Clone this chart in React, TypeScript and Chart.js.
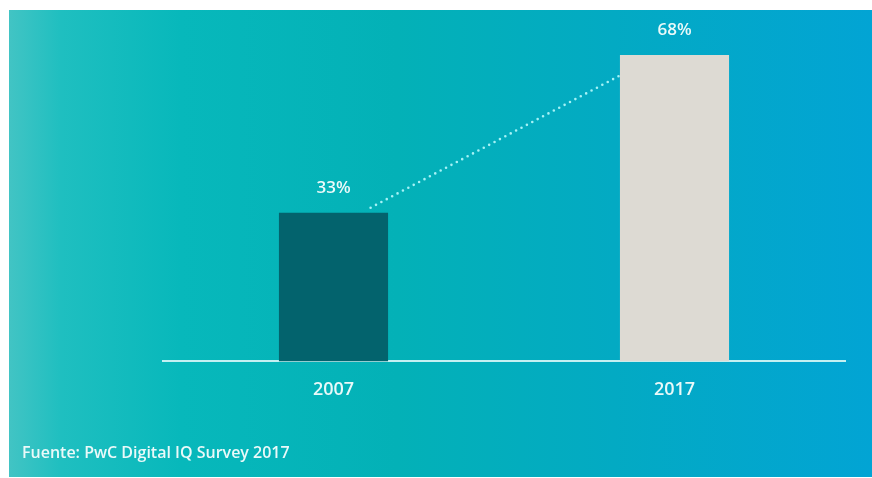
import React, { useEffect, useRef } from "react";
import { Chart, registerables } from "chart.js";

Chart.register(...registerables);

const categories = ["2007", "2017"];
const values = [33, 68];
const barColors = ["#03636d", "#dddad3"];
const valueSuffix = "%";
const sourceText = "Fuente: PwC Digital IQ Survey 2017";

const FONT = "'Open Sans', 'Noto Sans', sans-serif";
const TEXT_COLOR = "#eaf9f9";

const valueLabels = {
  id: "valueLabels",
  afterDatasetsDraw(chart: any) {
    const { ctx } = chart;
    const meta = chart.getDatasetMeta(0);
    ctx.save();
    ctx.fillStyle = TEXT_COLOR;
    ctx.font = `600 17px ${FONT}`;
    ctx.textAlign = "center";
    ctx.textBaseline = "middle";
    meta.data.forEach((bar: any, i: number) => {
      ctx.fillText(values[i] + valueSuffix, bar.x, bar.y - 25);
    });
    ctx.restore();
  },
};

const connector = {
  id: "connector",
  beforeDatasetsDraw(chart: any) {
    const { ctx } = chart;
    const meta = chart.getDatasetMeta(0);
    const a = meta.data[0];
    const b = meta.data[1];
    if (!a || !b) return;
    const x1 = a.x + a.width * 0.34;
    const y1 = a.y - 5;
    const x2 = b.x - b.width / 2 - 1;
    const y2 = b.y + 21;
    ctx.save();
    ctx.strokeStyle = "#a6f2f6";
    ctx.lineWidth = 2.6;
    ctx.lineCap = "round";
    ctx.setLineDash([0, 6.1]);
    ctx.beginPath();
    ctx.moveTo(x1, y1);
    ctx.lineTo(x2, y2);
    ctx.stroke();
    ctx.restore();
  },
};

export default function App() {
  const canvasRef = useRef<HTMLCanvasElement | null>(null);

  useEffect(() => {
    if (!canvasRef.current) return;
    const chart = new Chart(canvasRef.current, {
      type: "bar",
      data: {
        labels: categories,
        datasets: [
          {
            data: values,
            backgroundColor: barColors,
            borderWidth: 0,
            barPercentage: 0.32,
            categoryPercentage: 1,
          },
        ],
      },
      options: {
        animation: false,
        responsive: false,
        maintainAspectRatio: false,
        layout: { padding: { left: 163, right: 27, top: 46, bottom: 59 } },
        plugins: {
          legend: { display: false },
          tooltip: { enabled: false },
          title: { display: false },
        },
        scales: {
          x: {
            grid: { display: false, drawTicks: false },
            border: { display: true, color: "#c4f0f2", width: 2 },
            ticks: {
              color: TEXT_COLOR,
              font: { family: FONT, size: 18, weight: "600" },
              padding: 18,
            },
          },
          y: {
            display: false,
            min: 0,
            max: 70,
          },
        },
      },
      plugins: [connector, valueLabels],
    });
    return () => chart.destroy();
  }, []);

  return (
    <div
      style={{
        position: "fixed",
        left: 0,
        top: 0,
        width: 872,
        height: 478,
        background: "#ffffff",
        overflow: "hidden",
      }}
    >
      <div
        style={{
          position: "absolute",
          left: 9,
          top: 10,
          width: 863,
          height: 467,
          background:
            "linear-gradient(to right, #42c4c4 0%, #1fbfc0 6%, #07b8bb 20%, #03b1b7 45%, #03aac3 70%, #02a4d4 100%)",
        }}
      />
      <canvas
        ref={canvasRef}
        width={872}
        height={478}
        style={{ position: "absolute", left: 0, top: 0, width: 872, height: 478 }}
      />
      <div
        style={{
          position: "absolute",
          left: 22,
          top: 441,
          fontFamily: FONT,
          fontSize: 16,
          fontWeight: 600,
          color: TEXT_COLOR,
          whiteSpace: "nowrap",
          lineHeight: "22px",
        }}
      >
        {sourceText}
      </div>
    </div>
  );
}
